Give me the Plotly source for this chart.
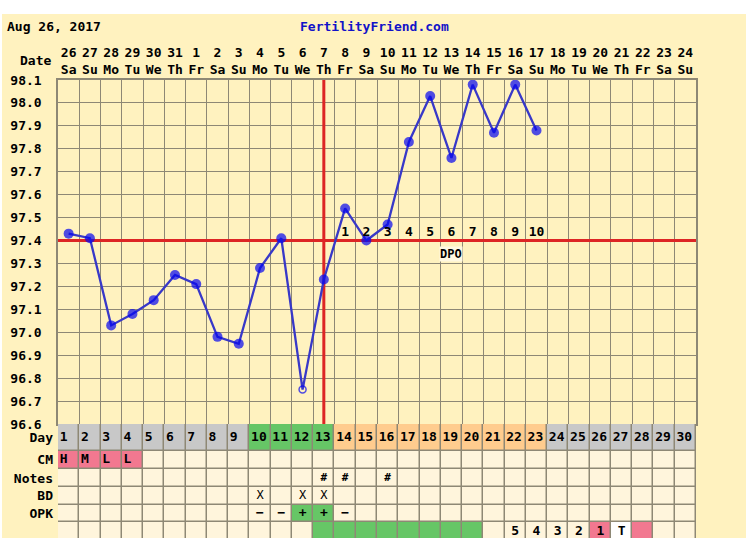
import plotly.graph_objects as go

W, H = 746, 538
FONT = "DejaVu Sans Mono"

# --- datos del ciclo ---
DAYS = list(range(1, 31))
DATES = [26, 27, 28, 29, 30, 31] + list(range(1, 25))
WEEKDAYS = ["Sa", "Su", "Mo", "Tu", "We", "Th", "Fr"] * 4 + ["Sa", "Su"]
TEMPS = [97.43, 97.41, 97.03, 97.08, 97.14, 97.25, 97.21, 96.98, 96.95, 97.28,
         97.41, 96.75, 97.23, 97.54, 97.40, 97.47, 97.83, 98.03, 97.76, 98.08,
         97.87, 98.08, 97.88]
DISCARDED_DAYS = [12]
COVERLINE = 97.4
OVULATION_DAY = 13
DPO_DAYS = list(range(14, 24))
DPO_LABELS = [str(i) for i in range(1, 11)]
TEMP_TICKS = [round(96.6 + 0.1 * i, 1) for i in range(16)]

# fases en la fila "Day": 1 normal, 2 fertil, 3 lutea
DAY_PHASE = [1] * 9 + [2] * 4 + [3] * 10 + [1] * 7
CM_DAYS, CM_TEXT = [1, 2, 3, 4], ["H", "M", "L", "L"]
NOTES_DAYS = [13, 14, 16]
BD_DAYS = [10, 12, 13]
OPK_DAYS, OPK_TEXT = [10, 11, 12, 13, 14], ["−", "−", "+", "+", "−"]
OPK_POSITIVE = [12, 13]
STATS_GREEN = list(range(13, 21))
STATS_DAYS, STATS_TEXT = [22, 23, 24, 25, 26, 27], ["5", "4", "3", "2", "1", "T"]
STATS_PINK, STATS_WHITE = [26, 28], [27]
ROW_NAMES = ["Day", "CM", "Notes", "BD", "OPK", "Stats"]

# --- estilo ---
BG = "#FFF2BF"
CELL = "#FFF5DC"
GRID = "#8E8875"
RED = "#DD2525"
LINE_BLUE = "#3838C8"
DOT_BLUE = "#0505F0"
CELL_COLORS = [CELL, "#C8C8C8", "#66C666", "#FFCC8E", "#F27890", "#FFFFFF"]

PLOT_L, PLOT_R, TEMP_TOP, TEMP_BOT = 58, 696, 80, 424
ROW_EDGES = [424, 450.5, 469, 487, 504.5, 522, 541]


def px(p):
    return p / W


def py(p):
    return 1 - p / H


# matriz de colores de la tabla inferior
z = [[0] * 30 for _ in ROW_NAMES]
for i, ph in enumerate(DAY_PHASE):
    z[0][i] = ph
for d in CM_DAYS:
    z[1][d - 1] = 4
for d in OPK_POSITIVE:
    z[4][d - 1] = 2
for d in STATS_GREEN:
    z[5][d - 1] = 2
for d in STATS_PINK:
    z[5][d - 1] = 4
for d in STATS_WHITE:
    z[5][d - 1] = 5

n = len(CELL_COLORS)
scale = []
for k, c in enumerate(CELL_COLORS):
    scale += [[k / n, c], [(k + 1) / n, c]]

row_mid = [(a + b) / 2 for a, b in zip(ROW_EDGES[:-1], ROW_EDGES[1:])]

fig = go.Figure()

fig.add_trace(go.Heatmap(
    z=z, x=[d - 0.5 for d in DAYS] + [30.5], y=ROW_EDGES,
    colorscale=scale, zmin=-0.5, zmax=n - 0.5, showscale=False,
    xgap=1.5, ygap=1.5, hoverinfo="skip", xaxis="x", yaxis="y2",
))

tfont = dict(family=FONT, size=13, color="black", weight="bold")


def table_text(days, texts, row, left=False, font=tfont):
    fig.add_trace(go.Scatter(
        x=[d - 0.5 + 0.08 if left else d for d in days], y=[row_mid[row]] * len(days),
        text=texts, mode="text", textposition="middle right" if left else "middle center",
        textfont=font, hoverinfo="skip", xaxis="x", yaxis="y2", showlegend=False,
    ))


table_text(DAYS, [str(d) for d in DAYS], 0, left=True)
table_text(CM_DAYS, CM_TEXT, 1, left=True)
table_text(NOTES_DAYS, ["#"] * len(NOTES_DAYS), 2, font=dict(tfont, size=11))
table_text(BD_DAYS, ["X"] * len(BD_DAYS), 3, font=dict(family=FONT, size=12, color="black"))
table_text(OPK_DAYS, OPK_TEXT, 4)
table_text(STATS_DAYS, STATS_TEXT, 5)

# temperaturas
temp_days = DAYS[:len(TEMPS)]
discarded = [d in DISCARDED_DAYS for d in temp_days]
fig.add_trace(go.Scatter(
    x=temp_days, y=TEMPS, mode="lines+markers",
    line=dict(color=LINE_BLUE, width=2.3),
    marker=dict(symbol=["circle-open" if o else "circle" for o in discarded],
                size=[7 if o else 10 for o in discarded], color=DOT_BLUE,
                line=dict(width=[1.5 if o else 0 for o in discarded], color=LINE_BLUE)),
    hoverinfo="skip", showlegend=False,
))

# etiquetas DPO sobre la linea de base (en el eje x3, que lleva las fechas arriba)
fig.add_trace(go.Scatter(
    x=DPO_DAYS, y=[COVERLINE + 0.035] * len(DPO_DAYS), text=DPO_LABELS,
    mode="text", textposition="middle center", textfont=tfont,
    hoverinfo="skip", showlegend=False, xaxis="x3", yaxis="y",
))

shapes = [
    dict(type="rect", xref="paper", yref="paper", x0=px(2), x1=1, y0=0, y1=py(14),
         fillcolor=BG, line_width=0, layer="below"),
    dict(type="rect", xref="x", yref="y2", x0=0.5, x1=30.5, y0=ROW_EDGES[0], y1=ROW_EDGES[-1],
         fillcolor=GRID, line_width=0, layer="below"),
    dict(type="line", xref="x", yref="y", x0=0.5, x1=30.5, y0=COVERLINE, y1=COVERLINE,
         line=dict(color=RED, width=3), layer="between"),
    dict(type="line", xref="x", yref="y", x0=OVULATION_DAY, x1=OVULATION_DAY, y0=96.6, y1=98.1,
         line=dict(color=RED, width=3), layer="between"),
]

ann = [
    dict(text="Aug 26, 2017", x=px(5), y=py(26), xanchor="left", font=tfont),
    dict(text="FertilityFriend.com", x=px(298), y=py(26), xanchor="left",
         font=dict(tfont, color="#1212C8")),
    dict(text="Date", x=px(53), y=py(60), xanchor="right", font=tfont),
]
for a in ann:
    a.update(xref="paper", yref="paper", yanchor="middle", showarrow=False)
ann.append(dict(text="DPO", x=19, y=COVERLINE - 0.06, xref="x", yref="y", showarrow=False,
                font=dict(tfont, size=12), bgcolor="#FFF8E2", borderpad=0))

xdom = [px(PLOT_L), px(PLOT_R)]
common = dict(automargin=False, zeroline=False, ticks="", tickfont=tfont)
fig.update_layout(
    template="none",
    width=W, height=H, autosize=False, margin=dict(l=0, r=0, t=0, b=0, pad=0),
    paper_bgcolor="white", plot_bgcolor=BG, showlegend=False,
    shapes=shapes, annotations=ann,
    xaxis=dict(common, domain=xdom, range=[0.5, 30.5], anchor="y",
               tickvals=[d + 0.5 for d in DAYS[:-1]], showticklabels=False,
               showgrid=True, gridcolor=GRID, gridwidth=1.2,
               showline=True, mirror=True, linecolor=GRID, linewidth=1.5),
    xaxis3=dict(common, domain=xdom, range=[0.5, 30.5], overlaying="x", anchor="y", side="top",
                tickvals=DAYS, ticktext=[f"{d}<br>{w}" for d, w in zip(DATES, WEEKDAYS)],
                showgrid=False, showticklabels=True, ticklabelstandoff=2),
    yaxis=dict(common, domain=[py(TEMP_BOT), py(TEMP_TOP)], range=[96.6, 98.1], anchor="x",
               tickvals=TEMP_TICKS, ticktext=[f"{t:.1f}" for t in TEMP_TICKS],
               ticklabelstandoff=12, showgrid=True, gridcolor=GRID, gridwidth=1.2,
               showline=True, mirror=True, linecolor=GRID, linewidth=1.5),
    yaxis3=dict(common, domain=[py(TEMP_BOT), py(TEMP_TOP)], range=[96.6, 98.1], overlaying="y",
                anchor="x", side="right", tickvals=TEMP_TICKS,
                ticktext=[f"{t:.1f}" for t in TEMP_TICKS], ticklabelstandoff=4, showgrid=False),
    yaxis2=dict(common, domain=[0, py(TEMP_BOT)], range=[H, TEMP_BOT], anchor="x",
                tickvals=row_mid, ticktext=ROW_NAMES, ticklabelstandoff=4, showgrid=False),
    yaxis4=dict(common, domain=[0, py(TEMP_BOT)], range=[H, TEMP_BOT], overlaying="y2",
                anchor="x", side="right", tickvals=row_mid, ticktext=ROW_NAMES,
                ticklabelstandoff=3, showgrid=False),
)

fig.write_html("out.html", config={"displayModeBar": False},
               post_script="document.body.style.margin='0';")
